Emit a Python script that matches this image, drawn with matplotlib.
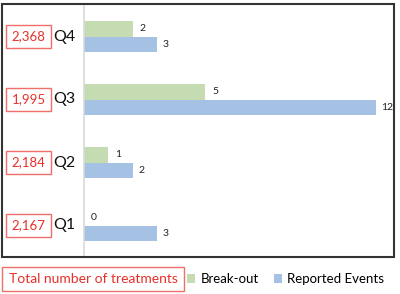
import matplotlib.pyplot as plt
from matplotlib.patches import Rectangle
from matplotlib.transforms import blended_transform_factory

quarters = ['Q1', 'Q2', 'Q3', 'Q4']
totals = ['2,167', '2,184', '1,995', '2,368']
break_out = [0, 1, 5, 2]
reported = [3, 2, 12, 3]

green = '#c5dcb3'
blue = '#a5c1e3'
red = '#e8302a'

W, H = 400, 294
plt.rcParams['font.family'] = ['Lato', 'DejaVu Sans']
fig = plt.figure(figsize=(4, 2.94), dpi=100)

# outer frame
fig.patches.append(Rectangle((1.5 / W, 1 - 257 / H), 392.5 / W, 253 / H,
                             transform=fig.transFigure, fill=False,
                             edgecolor='#333333', linewidth=1.5))

ax = fig.add_axes([84 / W, 1 - 257 / H, 311 / W, 252 / H])
ypos = range(len(quarters))
h = 0.25
ax.barh([y + h / 2 for y in ypos], break_out, height=h, color=green, label='Break-out')
ax.barh([y - h / 2 for y in ypos], reported, height=h, color=blue, label='Reported Events')

for y, b, r in zip(ypos, break_out, reported):
    ax.annotate(str(b), (b, y + h / 2), xytext=(5, 0), textcoords='offset points',
                va='center', ha='left', fontsize=7.5, color='#222222')
    ax.annotate(str(r), (r, y - h / 2), xytext=(4, 0), textcoords='offset points',
                va='center', ha='left', fontsize=7.5, color='#222222')

ax.set_xlim(0, 12.8)
ax.set_ylim(-0.5, 3.5)
ax.set_xticks([])
ax.set_yticks([])
for s in ['top', 'right', 'bottom']:
    ax.spines[s].set_visible(False)
ax.spines['left'].set_color('#d9d9d9')
ax.spines['left'].set_linewidth(1.2)
ax.patch.set_alpha(0)

# quarter labels and total boxes
tr = blended_transform_factory(fig.transFigure, ax.transData)
for y, q, t in zip(ypos, quarters, totals):
    ax.text(53 / W, y, q, transform=tr, ha='left', va='center',
            fontsize=11.5, color='#111111')
    ax.text(28.5 / W, y, t, transform=tr, ha='center', va='center',
            fontsize=9.5, color=red,
            bbox=dict(boxstyle='square,pad=0.4', facecolor='white', edgecolor='#ef6f6a', linewidth=1))

# bottom legend
fig.text(93 / W, 1 - 279 / H, 'Total number of treatments', ha='center', va='center',
         fontsize=10, color=red,
         bbox=dict(boxstyle='square,pad=0.45', facecolor='white', edgecolor='#ef6f6a', linewidth=1))
fig.legend(loc='center left', bbox_to_anchor=(187 / W, 1 - 279 / H), ncol=2, frameon=False,
           fontsize=9.5, handlelength=0.6, handleheight=0.6, handletextpad=0.45,
           columnspacing=1.1, borderaxespad=0, borderpad=0)

fig.savefig('out.png', dpi=100)
